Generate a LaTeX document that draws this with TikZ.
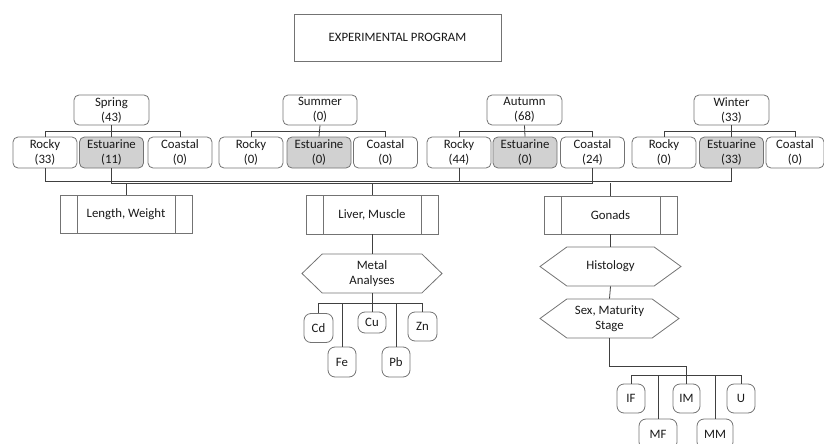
\documentclass[tikz,border=0pt]{standalone}
\usepackage{fontspec}
\setmainfont{Carlito}
\usetikzlibrary{shapes.symbols}
\tikzset{
  base/.style={draw=black!55, line width=0.8pt, text=black!90, align=center, inner sep=0pt,
    font=\fontsize{12.8}{15}\selectfont},
  titlebox/.style={base, minimum width=207pt, minimum height=47pt},
  season/.style={base, rounded corners=5pt, minimum width=75pt, minimum height=30pt},
  site/.style={base, rounded corners=5pt, minimum width=64pt, minimum height=31pt},
  estu/.style={site, fill=black!18},
  tissue/.style={base, minimum width=132pt, minimum height=38pt,
    path picture={
      \draw[black!55, line width=0.8pt] ([xshift=17pt]path picture bounding box.north west) -- ([xshift=17pt]path picture bounding box.south west);
      \draw[black!55, line width=0.8pt] ([xshift=-17pt]path picture bounding box.north east) -- ([xshift=-17pt]path picture bounding box.south east);}},
  hexa/.style={base, signal, signal to=west and east, signal pointer angle=88,
    minimum width=140pt, minimum height=39pt},
  elem/.style={base, rounded corners=7pt, minimum width=28pt, minimum height=29pt},
  conn/.style={draw=black!75, line width=0.8pt},
}
\begin{document}
\begin{tikzpicture}[x=1pt,y=-1pt]
\clip (0,0) rectangle (824,444);
\useasboundingbox (0,0) rectangle (824,444);

\node[titlebox] (title) at (397.5,37.5) {EXPERIMENTAL PROGRAM};

% seasons
\node[season] (spr) at (111.5,110) {Spring\\(43)};
\node[season, minimum width=74pt] (sum) at (320,110) {Summer\\(0)};
\node[season] (aut) at (524.5,110) {Autumn\\(68)};
\node[season] (win) at (731.5,110) {Winter\\(33)};

% sites
\node[site] (sprR) at (45,152.5) {Rocky\\(33)};
\node[estu] (sprE) at (111.5,152.5) {Estuarine\\(11)};
\node[site] (sprC) at (180,152.5) {Coastal\\(0)};
\node[site] (sumR) at (251,152.5) {Rocky\\(0)};
\node[estu] (sumE) at (319,152.5) {Estuarine\\(0)};
\node[site] (sumC) at (385.5,152.5) {Coastal\\(0)};
\node[site] (autR) at (459,152.5) {Rocky\\(44)};
\node[estu] (autE) at (525,152.5) {Estuarine\\(0)};
\node[site] (autC) at (592.5,152.5) {Coastal\\(24)};
\node[site] (winR) at (664,152.5) {Rocky\\(0)};
\node[estu] (winE) at (731.5,152.5) {Estuarine\\(33)};
\node[site, minimum width=58pt] (winC) at (795,152.5) {Coastal\\(0)};

% season to site connectors
\foreach \s/\r/\e/\c in {spr/sprR/sprE/sprC, sum/sumR/sumE/sumC, aut/autR/autE/autC, win/winR/winE/winC}{
  \draw[conn] (\s.south) -- (\e.north);
  \draw[conn] (\r.north) -- ++(0,-5) -| (\c.north);
}

% tissues
\node[tissue] (lw) at (126,214) {Length, Weight};
\node[tissue, minimum height=39pt] (lm) at (372,214.5) {Liver, Muscle};
\node[tissue, minimum width=133pt] (gon) at (610.5,215) {Gonads};

% bus
\coordinate (b1) at (0,181);
\coordinate (b2) at (0,183);
\draw[conn] (sprR.south) -- (sprR.south |- b1) -- (winE.south |- b1) -- (winE.south);
\draw[conn] (sprE.south) -- (sprE.south |- b2) -- (autC.south |- b2) -- (autC.south);
\draw[conn] (autR.south) -- (autR.south |- b1);
\draw[conn] (lw.north) -- (lw.north |- b2);
\draw[conn] (lm.north) -- (lm.north |- b2);
\draw[conn] (gon.north) -- (gon.north |- b2);

% hexagons
\node[hexa] (ma) at (372,273.5) {Metal\\Analyses};
\node[hexa, minimum width=141pt, signal pointer angle=72] (his) at (610.5,266.5) {Histology};
\node[hexa, minimum width=139pt, signal pointer angle=72] (sex) at (609.5,318.5) {Sex, Maturity\\Stage};
\draw[conn] (lm.south) -- (ma.north);
\draw[conn] (gon.south) -- (his.north);
\draw[conn] (his.south) -- (sex.north);

% metals
\node[elem, minimum width=29pt] (cd) at (318.5,328) {Cd};
\node[elem, minimum height=21pt] (cu) at (372,322.5) {Cu};
\node[elem, minimum width=29pt] (zn) at (422.5,326.5) {Zn};
\node[elem, minimum height=30pt] (fe) at (342,362) {Fe};
\node[elem, minimum height=30pt] (pb) at (396,362) {Pb};
\coordinate (mb) at (0,303);
\draw[conn] (ma.south) -- (cu.north);
\draw[conn] (cd.north) -- (cd.north |- mb) -- (zn.north |- mb) -- (zn.north);
\draw[conn] (fe.north) -- (fe.north |- mb);
\draw[conn] (pb.north) -- (pb.north |- mb);

% maturity stages
\node[elem] (if) at (631,398.5) {IF};
\node[elem, minimum width=27pt] (im) at (686.5,398.5) {IM};
\node[elem] (u) at (741,398.5) {U};
\node[elem, minimum width=38pt, minimum height=30pt] (mf) at (658,434) {MF};
\node[elem, minimum width=36pt, minimum height=30pt] (mm) at (715,434) {MM};
\coordinate (gb) at (0,375);
\draw[conn] (sex.south) -- ++(0,28) -| (im.north);
\draw[conn] (if.north) -- (if.north |- gb) -- (u.north |- gb) -- (u.north);
\draw[conn] (mf.north) -- (mf.north |- gb);
\draw[conn] (mm.north) -- (mm.north |- gb);
\end{tikzpicture}
\end{document}
